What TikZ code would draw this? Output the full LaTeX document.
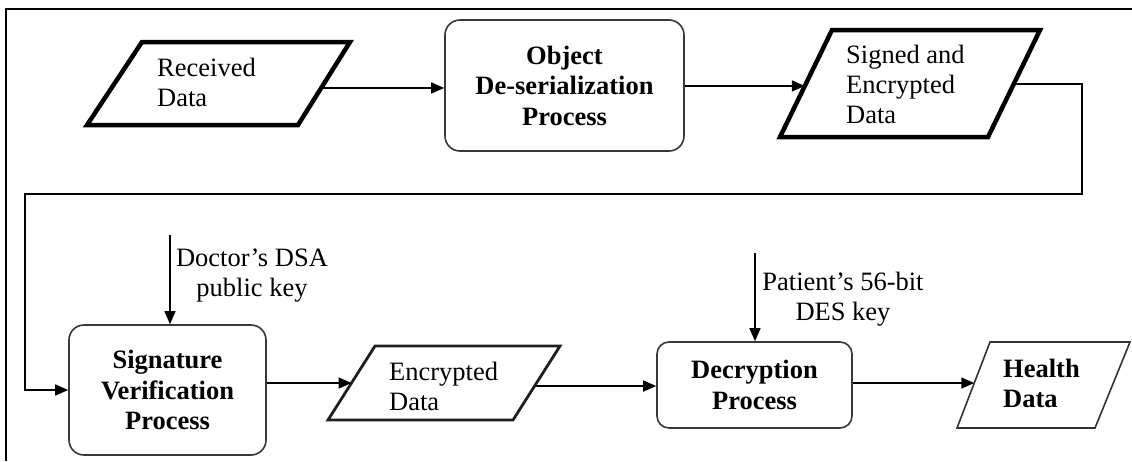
\documentclass[tikz,border=0pt]{standalone}
\usepackage{fontspec}
\setmainfont{Liberation Serif}
\usetikzlibrary{arrows.meta,calc}

\begin{document}
\begin{tikzpicture}[x=1pt,y=-1pt,
  txt/.style={font=\fontsize{26.5}{30}\selectfont, inner sep=0pt, align=left},
  boldtxt/.style={font=\fontsize{26.5}{30}\selectfont\bfseries, inner sep=0pt, align=left},
  procbox/.style={draw=black!78, line width=1.6pt, rounded corners=15pt,
    font=\fontsize{26.5}{30.5}\selectfont\bfseries, align=center, inner sep=0pt},
  datathick/.style={draw=black, line width=4.5pt, line join=miter},
  datamid/.style={draw=black!88, line width=2.8pt, line join=miter},
  datathin/.style={draw=black!80, line width=1.6pt, line join=miter},
  flow/.style={draw=black, line width=1.5pt, -{Triangle[length=13pt,width=11pt]}},
]
\useasboundingbox (0,0) rectangle (1132,461);
\fill[white] (0,0) rectangle (1132,461);

% outer frame
\draw[line width=2.5pt] (6,461) -- (6,9) -- (1132,9);

% ---- input: received data
\coordinate (rd-tl) at (142,42);
\coordinate (rd-tr) at (350,42);
\coordinate (rd-br) at (298,125);
\coordinate (rd-bl) at (87,125);
\draw[datathick] (rd-tl) -- (rd-tr) -- (rd-br) -- (rd-bl) -- cycle;
\node[txt, anchor=west] (rd) at (157,82.5) {Received\\Data};
\coordinate (rd-out) at ($(rd-tr)!0.554!(rd-br)$);

% ---- object de-serialization
\node[procbox, minimum width=239pt, minimum height=131pt] (obj) at (564.5,85.5)
  {Object\\De-serialization\\Process};
\draw[flow] (rd-out) -- (rd-out -| obj.west);

% ---- signed and encrypted data
\coordinate (sg-tl) at (832,30);
\coordinate (sg-tr) at (1040,30);
\coordinate (sg-br) at (988,137);
\coordinate (sg-bl) at (780,137);
\draw[datathick] (sg-tl) -- (sg-tr) -- (sg-br) -- (sg-bl) -- cycle;
\node[txt, anchor=west] (sg) at (846,84.5) {Signed and\\Encrypted\\Data};
\coordinate (sg-in) at ($(sg-bl)!0.477!(sg-tl)$);
\coordinate (sg-out) at ($(sg-br)!0.495!(sg-tr)$);
\draw[flow] (obj.east |- sg-in) -- (sg-in);

% ---- signature verification
\node[procbox, minimum width=197pt, minimum height=130pt] (sig) at (167.5,390)
  {Signature\\Verification\\Process};
\coordinate (loop-r) at (1082,194);
\coordinate (loop-l) at (25,194);
\draw[flow] (sg-out) -| (loop-r) -- (loop-l) |- (sig.west);

\coordinate (dk) at (170,235);
\draw[flow] (dk) -- (dk |- sig.north);
\node[txt, align=center] (dkl) at (252,276) {Doctor’s DSA\\public key};

% ---- encrypted data
\coordinate (en-tl) at (375,346);
\coordinate (en-tr) at (560,346);
\coordinate (en-br) at (513,420);
\coordinate (en-bl) at (328,420);
\draw[datamid] (en-tl) -- (en-tr) -- (en-br) -- (en-bl) -- cycle;
\node[txt, anchor=west] (en) at (389,386) {Encrypted\\Data};
\coordinate (en-in) at ($(en-bl)!0.5!(en-tl)$);
\coordinate (en-out) at ($(en-br)!0.459!(en-tr)$);
\draw[flow] (en-in -| sig.east) -- (en-in);

% ---- decryption
\node[procbox, rounded corners=12pt, minimum width=195pt, minimum height=86pt] (dec)
  at (754.5,385) {Decryption\\Process};
\draw[flow] (en-out) -- (en-out -| dec.west);

\coordinate (pk) at (755,253);
\draw[flow] (pk) -- (pk |- dec.north);
\node[txt, align=center] (pkl) at (843,299) {Patient’s 56-bit\\DES key};

% ---- output: health data
\coordinate (hd-tl) at (990,342);
\coordinate (hd-tr) at (1130,342);
\coordinate (hd-br) at (1095,428);
\coordinate (hd-bl) at (957,428);
\draw[datathin] (hd-tl) -- (hd-tr) -- (hd-br) -- (hd-bl) -- cycle;
\node[boldtxt, anchor=west] (hd) at (1003,383) {Health\\Data};
\coordinate (hd-in) at ($(hd-bl)!0.523!(hd-tl)$);
\draw[flow] (hd-in -| dec.east) -- (hd-in);
\end{tikzpicture}
\end{document}
